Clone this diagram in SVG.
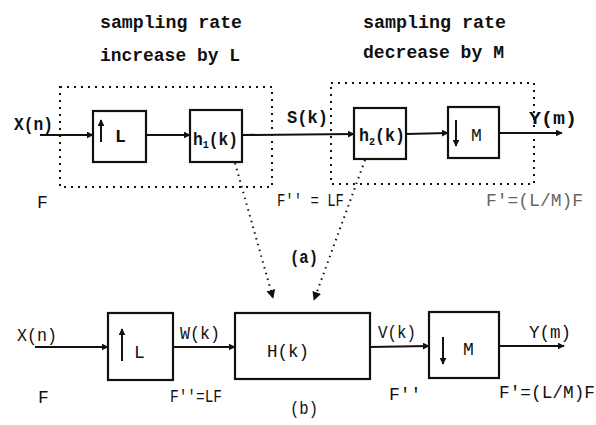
<svg xmlns="http://www.w3.org/2000/svg" width="596" height="425" viewBox="0 0 596 425">
<defs>
<marker id="ah" viewBox="0 0 10 10" refX="9" refY="5" markerWidth="7" markerHeight="7" markerUnits="userSpaceOnUse" orient="auto">
<path d="M0,0 L10,5 L0,10 Z" fill="#111"/>
</marker>
<marker id="ahd" viewBox="0 0 10 10" refX="9" refY="5" markerWidth="9" markerHeight="9" markerUnits="userSpaceOnUse" orient="auto">
<path d="M0,0 L10,5 L0,10 Z" fill="#111"/>
</marker>
</defs>
<style>
.t{font-family:"Liberation Mono","DejaVu Sans Mono",monospace;fill:#111;}
.b{font-weight:bold;}
.h{font-size:19px;}
.l{font-size:18px;}
.s{font-size:11px;}
.box{fill:#fff;stroke:#111;stroke-width:2.2;}
.dot{fill:none;stroke:#111;stroke-width:2;stroke-dasharray:2 5;}
.w{stroke:#111;stroke-width:2;fill:none;}
.dl{stroke:#111;stroke-width:2;stroke-dasharray:1.5 4.5;fill:none;}
.faint{fill:#666;}
</style>
<rect width="596" height="425" fill="#fff"/>

<g id="headings">
<text class="t b h" x="100" y="28" textLength="142" lengthAdjust="spacingAndGlyphs">sampling rate</text>
<text class="t b h" x="100" y="61" textLength="140" lengthAdjust="spacingAndGlyphs">increase by L</text>
<text class="t b h" x="363" y="28" textLength="143" lengthAdjust="spacingAndGlyphs">sampling rate</text>
<text class="t b h" x="363" y="58" textLength="141" lengthAdjust="spacingAndGlyphs">decrease by M</text>
</g>

<g id="group-interp">
<rect class="dot" x="60" y="87" width="212" height="100"/>
</g>
<g id="group-decim">
<rect class="dot" x="331" y="83" width="203" height="101"/>
</g>

<g id="connectors">
<line class="w" x1="40" y1="135" x2="93" y2="135" marker-end="url(#ah)"/>
<line class="w" x1="146" y1="135" x2="190" y2="135" marker-end="url(#ah)"/>
<line class="w" x1="242" y1="135" x2="354" y2="134" marker-end="url(#ah)"/>
<line class="w" x1="406" y1="134" x2="448" y2="133" marker-end="url(#ah)"/>
<line class="w" x1="499" y1="133" x2="562" y2="133" marker-end="url(#ah)"/>
<line class="dl" x1="235" y1="163" x2="273" y2="298" marker-end="url(#ahd)"/>
<line class="dl" x1="365" y1="160" x2="314" y2="300" marker-end="url(#ahd)"/>
<line class="w" x1="35" y1="347" x2="108" y2="347" marker-end="url(#ah)"/>
<line class="w" x1="173" y1="347" x2="235" y2="347" marker-end="url(#ah)"/>
<line class="w" x1="370" y1="347" x2="429" y2="346" marker-end="url(#ah)"/>
<line class="w" x1="499" y1="346" x2="564" y2="346" marker-end="url(#ah)"/>
</g>

<g id="up-L-a">
<rect class="box" x="93" y="111" width="53" height="51"/>
<line class="w" x1="101" y1="142" x2="101" y2="120" marker-end="url(#ah)"/>
<text class="t b l" x="115" y="142">L</text>
</g>
<g id="h1">
<rect class="box" x="190" y="110" width="52" height="52"/>
<text class="t b l" x="193" y="145" textLength="45" lengthAdjust="spacingAndGlyphs">h<tspan class="s" dy="3">1</tspan><tspan dy="-3">(k)</tspan></text>
</g>
<g id="h2">
<rect class="box" x="354" y="108" width="52" height="51"/>
<text class="t b l" x="359" y="141" textLength="46" lengthAdjust="spacingAndGlyphs">h<tspan class="s" dy="4">2</tspan><tspan dy="-4">(k)</tspan></text>
</g>
<g id="down-M-a">
<rect class="box" x="448" y="107" width="51" height="51"/>
<line class="w" x1="456" y1="120" x2="456" y2="146" marker-end="url(#ah)"/>
<text class="t l" x="471" y="141">M</text>
</g>

<g id="labels-a">
<text class="t b l" x="14" y="130" textLength="39" lengthAdjust="spacingAndGlyphs">X(n)</text>
<text class="t b l" x="287" y="123" textLength="41" lengthAdjust="spacingAndGlyphs">S(k)</text>
<text class="t b l" x="529" y="124" textLength="48" lengthAdjust="spacingAndGlyphs">Y(m)</text>
<text class="t l" x="37" y="208">F</text>
<text class="t l" x="277" y="206" textLength="67" lengthAdjust="spacingAndGlyphs">F'' = LF</text>
<text class="t l faint" x="486" y="206" textLength="97" lengthAdjust="spacingAndGlyphs">F'=(L/M)F</text>
<text class="t b l" x="290" y="263" textLength="28" lengthAdjust="spacingAndGlyphs">(a)</text>
</g>

<g id="up-L-b">
<rect class="box" x="108" y="313" width="65" height="67"/>
<line class="w" x1="122" y1="361" x2="122" y2="329" marker-end="url(#ah)"/>
<text class="t l" x="134" y="358">L</text>
</g>
<g id="H">
<rect class="box" x="235" y="313" width="135" height="66"/>
<text class="t l" x="267" y="357" textLength="42" lengthAdjust="spacingAndGlyphs">H(k)</text>
</g>
<g id="down-M-b">
<rect class="box" x="429" y="312" width="70" height="66"/>
<line class="w" x1="443" y1="337" x2="443" y2="364" marker-end="url(#ah)"/>
<text class="t l" x="463" y="355">M</text>
</g>

<g id="labels-b">
<text class="t l" x="17" y="341" textLength="40" lengthAdjust="spacingAndGlyphs">X(n)</text>
<text class="t l" x="180" y="339" textLength="40" lengthAdjust="spacingAndGlyphs">W(k)</text>
<text class="t l" x="378" y="338" textLength="38" lengthAdjust="spacingAndGlyphs">V(k)</text>
<text class="t l" x="529" y="338" textLength="42" lengthAdjust="spacingAndGlyphs">Y(m)</text>
<text class="t l" x="38" y="403">F</text>
<text class="t l" x="170" y="402" textLength="52" lengthAdjust="spacingAndGlyphs">F''=LF</text>
<text class="t l" x="389" y="400">F''</text>
<text class="t l" x="499" y="398" textLength="96" lengthAdjust="spacingAndGlyphs">F'=(L/M)F</text>
<text class="t l" x="290" y="414" textLength="28" lengthAdjust="spacingAndGlyphs">(b)</text>
</g>
</svg>
